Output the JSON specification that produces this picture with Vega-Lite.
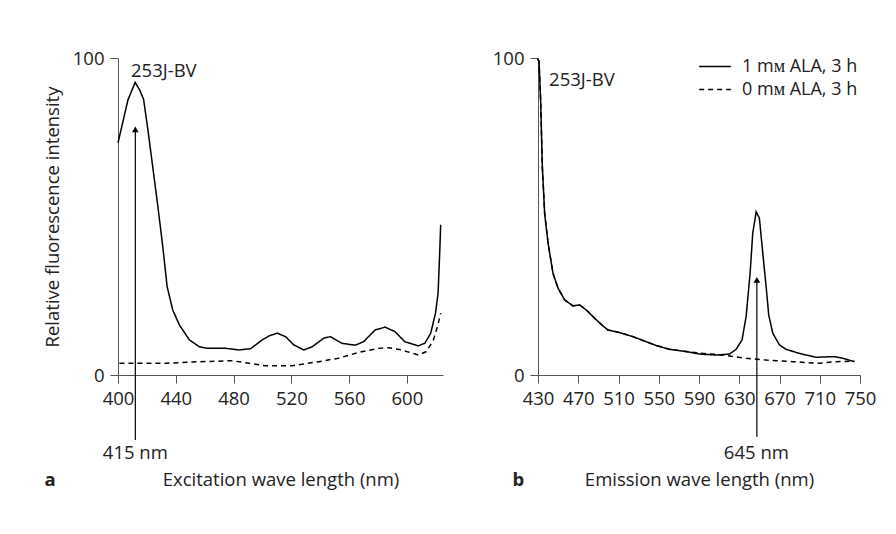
{
  "$schema": "https://vega.github.io/schema/vega-lite/v6.json",
  "padding": {"left": 43, "top": 49, "right": 5, "bottom": 5},
  "background": "white",
  "config": {
    "font": "Open Sans",
    "view": {"stroke": null},
    "axis": {"labelFontSize": 18.5, "titleFontSize": 18.5, "titleFontWeight": "normal", "labelColor": "#222", "titleColor": "#222", "domainColor": "#555", "tickColor": "#555", "grid": false, "tickSize": 8, "labelPadding": 6, "labelFlush": false, "labelOverlap": false},
    "text": {"font": "Open Sans", "fontSize": 18.5, "color": "#222"}
  },
  "datasets": {
    "a": [
      {"wl": 400, "v": 73.2, "s": "1 mᴍ ALA, 3 h"},
      {"wl": 406.9, "v": 86.8, "s": "1 mᴍ ALA, 3 h"},
      {"wl": 411.9, "v": 92.3, "s": "1 mᴍ ALA, 3 h"},
      {"wl": 414.9, "v": 90, "s": "1 mᴍ ALA, 3 h"},
      {"wl": 417.7, "v": 87, "s": "1 mᴍ ALA, 3 h"},
      {"wl": 420.7, "v": 77.4, "s": "1 mᴍ ALA, 3 h"},
      {"wl": 424, "v": 65.8, "s": "1 mᴍ ALA, 3 h"},
      {"wl": 427.6, "v": 53.2, "s": "1 mᴍ ALA, 3 h"},
      {"wl": 431, "v": 40.5, "s": "1 mᴍ ALA, 3 h"},
      {"wl": 434, "v": 27.9, "s": "1 mᴍ ALA, 3 h"},
      {"wl": 437.9, "v": 20.5, "s": "1 mᴍ ALA, 3 h"},
      {"wl": 442.5, "v": 15.8, "s": "1 mᴍ ALA, 3 h"},
      {"wl": 449.4, "v": 11.1, "s": "1 mᴍ ALA, 3 h"},
      {"wl": 456.3, "v": 8.9, "s": "1 mᴍ ALA, 3 h"},
      {"wl": 462, "v": 8.4, "s": "1 mᴍ ALA, 3 h"},
      {"wl": 474.6, "v": 8.4, "s": "1 mᴍ ALA, 3 h"},
      {"wl": 483.8, "v": 7.9, "s": "1 mᴍ ALA, 3 h"},
      {"wl": 491.8, "v": 8.3, "s": "1 mᴍ ALA, 3 h"},
      {"wl": 499.9, "v": 11.1, "s": "1 mᴍ ALA, 3 h"},
      {"wl": 505, "v": 12.4, "s": "1 mᴍ ALA, 3 h"},
      {"wl": 510.2, "v": 13.2, "s": "1 mᴍ ALA, 3 h"},
      {"wl": 516, "v": 12.1, "s": "1 mᴍ ALA, 3 h"},
      {"wl": 521.7, "v": 9.5, "s": "1 mᴍ ALA, 3 h"},
      {"wl": 528.6, "v": 7.9, "s": "1 mᴍ ALA, 3 h"},
      {"wl": 534.4, "v": 8.9, "s": "1 mᴍ ALA, 3 h"},
      {"wl": 542.4, "v": 11.6, "s": "1 mᴍ ALA, 3 h"},
      {"wl": 547, "v": 12.1, "s": "1 mᴍ ALA, 3 h"},
      {"wl": 555, "v": 10, "s": "1 mᴍ ALA, 3 h"},
      {"wl": 564.2, "v": 9.4, "s": "1 mᴍ ALA, 3 h"},
      {"wl": 570, "v": 10.5, "s": "1 mᴍ ALA, 3 h"},
      {"wl": 578, "v": 14.2, "s": "1 mᴍ ALA, 3 h"},
      {"wl": 584.9, "v": 15.1, "s": "1 mᴍ ALA, 3 h"},
      {"wl": 591.7, "v": 13.7, "s": "1 mᴍ ALA, 3 h"},
      {"wl": 598.6, "v": 10.5, "s": "1 mᴍ ALA, 3 h"},
      {"wl": 607.8, "v": 9.2, "s": "1 mᴍ ALA, 3 h"},
      {"wl": 612.4, "v": 10, "s": "1 mᴍ ALA, 3 h"},
      {"wl": 616.5, "v": 13.2, "s": "1 mᴍ ALA, 3 h"},
      {"wl": 619.8, "v": 19.5, "s": "1 mᴍ ALA, 3 h"},
      {"wl": 621.6, "v": 25.8, "s": "1 mᴍ ALA, 3 h"},
      {"wl": 622.8, "v": 39.5, "s": "1 mᴍ ALA, 3 h"},
      {"wl": 623.4, "v": 47.4, "s": "1 mᴍ ALA, 3 h"},
      {"wl": 401, "v": 3.7, "s": "0 mᴍ ALA, 3 h"},
      {"wl": 433.3, "v": 3.7, "s": "0 mᴍ ALA, 3 h"},
      {"wl": 456, "v": 4.2, "s": "0 mᴍ ALA, 3 h"},
      {"wl": 479, "v": 4.5, "s": "0 mᴍ ALA, 3 h"},
      {"wl": 490.7, "v": 3.7, "s": "0 mᴍ ALA, 3 h"},
      {"wl": 502, "v": 2.9, "s": "0 mᴍ ALA, 3 h"},
      {"wl": 520.5, "v": 2.9, "s": "0 mᴍ ALA, 3 h"},
      {"wl": 538.9, "v": 4.2, "s": "0 mᴍ ALA, 3 h"},
      {"wl": 552.7, "v": 5.3, "s": "0 mᴍ ALA, 3 h"},
      {"wl": 566.5, "v": 7.1, "s": "0 mᴍ ALA, 3 h"},
      {"wl": 580.3, "v": 8.4, "s": "0 mᴍ ALA, 3 h"},
      {"wl": 587.2, "v": 8.6, "s": "0 mᴍ ALA, 3 h"},
      {"wl": 596.4, "v": 7.9, "s": "0 mᴍ ALA, 3 h"},
      {"wl": 607.8, "v": 6.3, "s": "0 mᴍ ALA, 3 h"},
      {"wl": 613.6, "v": 7.4, "s": "0 mᴍ ALA, 3 h"},
      {"wl": 618.3, "v": 11, "s": "0 mᴍ ALA, 3 h"},
      {"wl": 621.2, "v": 15.3, "s": "0 mᴍ ALA, 3 h"},
      {"wl": 623.4, "v": 19.5, "s": "0 mᴍ ALA, 3 h"}
    ],
    "b": [
      {"wl": 429.5, "v": 99.7, "s": "1 mᴍ ALA, 3 h"},
      {"wl": 431, "v": 99, "s": "1 mᴍ ALA, 3 h"},
      {"wl": 432.6, "v": 86.8, "s": "1 mᴍ ALA, 3 h"},
      {"wl": 434.3, "v": 65.8, "s": "1 mᴍ ALA, 3 h"},
      {"wl": 436.6, "v": 51, "s": "1 mᴍ ALA, 3 h"},
      {"wl": 440, "v": 41.6, "s": "1 mᴍ ALA, 3 h"},
      {"wl": 444.9, "v": 32.1, "s": "1 mᴍ ALA, 3 h"},
      {"wl": 449.9, "v": 27.4, "s": "1 mᴍ ALA, 3 h"},
      {"wl": 456.5, "v": 23.7, "s": "1 mᴍ ALA, 3 h"},
      {"wl": 464.7, "v": 21.8, "s": "1 mᴍ ALA, 3 h"},
      {"wl": 471.4, "v": 22.1, "s": "1 mᴍ ALA, 3 h"},
      {"wl": 478, "v": 20.5, "s": "1 mᴍ ALA, 3 h"},
      {"wl": 486.3, "v": 17.9, "s": "1 mᴍ ALA, 3 h"},
      {"wl": 494.5, "v": 15.5, "s": "1 mᴍ ALA, 3 h"},
      {"wl": 499.5, "v": 14.2, "s": "1 mᴍ ALA, 3 h"},
      {"wl": 511, "v": 13.4, "s": "1 mᴍ ALA, 3 h"},
      {"wl": 524.3, "v": 12.1, "s": "1 mᴍ ALA, 3 h"},
      {"wl": 537.5, "v": 10.5, "s": "1 mᴍ ALA, 3 h"},
      {"wl": 547.5, "v": 9.3, "s": "1 mᴍ ALA, 3 h"},
      {"wl": 560.7, "v": 8.1, "s": "1 mᴍ ALA, 3 h"},
      {"wl": 577.3, "v": 7.4, "s": "1 mᴍ ALA, 3 h"},
      {"wl": 590.5, "v": 6.6, "s": "1 mᴍ ALA, 3 h"},
      {"wl": 607, "v": 6.3, "s": "1 mᴍ ALA, 3 h"},
      {"wl": 620.3, "v": 6.6, "s": "1 mᴍ ALA, 3 h"},
      {"wl": 626.9, "v": 8.1, "s": "1 mᴍ ALA, 3 h"},
      {"wl": 632.8, "v": 11.1, "s": "1 mᴍ ALA, 3 h"},
      {"wl": 636.8, "v": 18.4, "s": "1 mᴍ ALA, 3 h"},
      {"wl": 640.8, "v": 32.1, "s": "1 mᴍ ALA, 3 h"},
      {"wl": 643.4, "v": 44.7, "s": "1 mᴍ ALA, 3 h"},
      {"wl": 646.8, "v": 51.5, "s": "1 mᴍ ALA, 3 h"},
      {"wl": 650, "v": 49.5, "s": "1 mᴍ ALA, 3 h"},
      {"wl": 653.4, "v": 38.4, "s": "1 mᴍ ALA, 3 h"},
      {"wl": 656.7, "v": 27.9, "s": "1 mᴍ ALA, 3 h"},
      {"wl": 659.3, "v": 18.9, "s": "1 mᴍ ALA, 3 h"},
      {"wl": 663.3, "v": 13.2, "s": "1 mᴍ ALA, 3 h"},
      {"wl": 669.9, "v": 9.5, "s": "1 mᴍ ALA, 3 h"},
      {"wl": 676.5, "v": 8.1, "s": "1 mᴍ ALA, 3 h"},
      {"wl": 689.8, "v": 6.8, "s": "1 mᴍ ALA, 3 h"},
      {"wl": 706.3, "v": 5.6, "s": "1 mᴍ ALA, 3 h"},
      {"wl": 724.5, "v": 5.8, "s": "1 mᴍ ALA, 3 h"},
      {"wl": 732.8, "v": 5.3, "s": "1 mᴍ ALA, 3 h"},
      {"wl": 744.4, "v": 4.2, "s": "1 mᴍ ALA, 3 h"},
      {"wl": 429.5, "v": 99.7, "s": "0 mᴍ ALA, 3 h"},
      {"wl": 431, "v": 99, "s": "0 mᴍ ALA, 3 h"},
      {"wl": 432.6, "v": 86.8, "s": "0 mᴍ ALA, 3 h"},
      {"wl": 434.3, "v": 65.8, "s": "0 mᴍ ALA, 3 h"},
      {"wl": 436.6, "v": 51, "s": "0 mᴍ ALA, 3 h"},
      {"wl": 440, "v": 41.6, "s": "0 mᴍ ALA, 3 h"},
      {"wl": 444.9, "v": 32.1, "s": "0 mᴍ ALA, 3 h"},
      {"wl": 449.9, "v": 27.4, "s": "0 mᴍ ALA, 3 h"},
      {"wl": 456.5, "v": 23.7, "s": "0 mᴍ ALA, 3 h"},
      {"wl": 464.7, "v": 21.8, "s": "0 mᴍ ALA, 3 h"},
      {"wl": 471.4, "v": 22.1, "s": "0 mᴍ ALA, 3 h"},
      {"wl": 478, "v": 20.5, "s": "0 mᴍ ALA, 3 h"},
      {"wl": 486.3, "v": 17.9, "s": "0 mᴍ ALA, 3 h"},
      {"wl": 494.5, "v": 15.5, "s": "0 mᴍ ALA, 3 h"},
      {"wl": 499.5, "v": 14.2, "s": "0 mᴍ ALA, 3 h"},
      {"wl": 511, "v": 13.4, "s": "0 mᴍ ALA, 3 h"},
      {"wl": 524.3, "v": 12.1, "s": "0 mᴍ ALA, 3 h"},
      {"wl": 537.5, "v": 10.5, "s": "0 mᴍ ALA, 3 h"},
      {"wl": 547.5, "v": 9.3, "s": "0 mᴍ ALA, 3 h"},
      {"wl": 560.7, "v": 8.1, "s": "0 mᴍ ALA, 3 h"},
      {"wl": 577.3, "v": 7.4, "s": "0 mᴍ ALA, 3 h"},
      {"wl": 590.5, "v": 6.9, "s": "0 mᴍ ALA, 3 h"},
      {"wl": 607, "v": 6.5, "s": "0 mᴍ ALA, 3 h"},
      {"wl": 620.3, "v": 6.0, "s": "0 mᴍ ALA, 3 h"},
      {"wl": 636.8, "v": 5.3, "s": "0 mᴍ ALA, 3 h"},
      {"wl": 656.7, "v": 4.7, "s": "0 mᴍ ALA, 3 h"},
      {"wl": 683.1, "v": 4.2, "s": "0 mᴍ ALA, 3 h"},
      {"wl": 709.6, "v": 3.7, "s": "0 mᴍ ALA, 3 h"},
      {"wl": 726.2, "v": 4.2, "s": "0 mᴍ ALA, 3 h"},
      {"wl": 744.4, "v": 4.4, "s": "0 mᴍ ALA, 3 h"}
    ]
  },
  "resolve": {"scale": {"x": "independent", "y": "independent", "strokeDash": "independent"}, "legend": {"strokeDash": "independent"}},
  "spacing": 48,
  "hconcat": [
    {
      "width": 325,
      "height": 317,
      "layer": [
        {
          "data": {"name": "a"},
          "mark": {"type": "line", "color": "black", "strokeWidth": 1.5, "clip": false},
          "encoding": {
            "x": {"field": "wl", "type": "quantitative", "scale": {"domain": [400, 625], "nice": false, "zero": false},
                  "axis": {"values": [400, 440, 480, 520, 560, 600], "title": "Excitation wave length (nm)", "titlePadding": 63}},
            "y": {"field": "v", "type": "quantitative", "scale": {"domain": [0, 100], "nice": false},
                  "axis": {"values": [0, 100], "title": "Relative fluorescence intensity", "titlePadding": 10}},
            "strokeDash": {"field": "s", "type": "nominal", "legend": null,
                  "scale": {"domain": ["1 mᴍ ALA, 3 h", "0 mᴍ ALA, 3 h"], "range": [[1, 0], [5, 4]]}},
            "order": {"field": "wl", "type": "quantitative"}
          }
        },
        {
          "data": {"values": [{}]},
          "mark": {"type": "rule", "color": "black", "strokeWidth": 1.2},
          "encoding": {"x": {"datum": 412}, "y": {"datum": -20.5}, "y2": {"datum": 77}}
        },
        {
          "data": {"values": [{}]},
          "mark": {"type": "point", "shape": "triangle-up", "filled": true, "color": "black", "size": 45, "opacity": 1},
          "encoding": {"x": {"datum": 412}, "y": {"datum": 77.5}}
        },
        {
          "data": {"values": [{}]},
          "mark": {"type": "text", "align": "center", "baseline": "middle"},
          "encoding": {"x": {"datum": 412}, "y": {"datum": -24.7}, "text": {"value": "415 nm"}}
        },
        {
          "data": {"values": [{}]},
          "mark": {"type": "text", "align": "left", "baseline": "middle"},
          "encoding": {"x": {"datum": 409}, "y": {"datum": 96}, "text": {"value": "253J-BV"}}
        },
        {
          "data": {"values": [{}]},
          "mark": {"type": "text", "align": "center", "baseline": "middle", "fontWeight": "bold"},
          "encoding": {"x": {"datum": 353}, "y": {"datum": -33}, "text": {"value": "a"}}
        }
      ]
    },
    {
      "width": 322,
      "height": 317,
      "layer": [
        {
          "data": {"name": "b"},
          "mark": {"type": "line", "color": "black", "strokeWidth": 1.5, "clip": false},
          "encoding": {
            "x": {"field": "wl", "type": "quantitative", "scale": {"domain": [430, 750], "nice": false, "zero": false},
                  "axis": {"values": [430, 470, 510, 550, 590, 630, 670, 710, 750], "title": "Emission wave length (nm)", "titlePadding": 63}},
            "y": {"field": "v", "type": "quantitative", "scale": {"domain": [0, 100], "nice": false},
                  "axis": {"values": [0, 100], "title": null}},
            "strokeDash": {"field": "s", "type": "nominal",
                  "scale": {"domain": ["1 mᴍ ALA, 3 h", "0 mᴍ ALA, 3 h"], "range": [[1, 0], [5, 4]]},
                  "legend": {"title": null, "orient": "none", "legendX": 160, "legendY": -3, "symbolType": "stroke", "symbolSize": 1000, "symbolStrokeWidth": 1.5, "symbolStrokeColor": "black", "labelFontSize": 18, "labelColor": "#222", "labelOffset": 10, "rowPadding": 0, "clipHeight": 23, "labelFont": "Open Sans"}},
            "order": {"field": "wl", "type": "quantitative"}
          }
        },
        {
          "data": {"values": [{}]},
          "mark": {"type": "rule", "color": "black", "strokeWidth": 1.2},
          "encoding": {"x": {"datum": 647.5}, "y": {"datum": -19.5}, "y2": {"datum": 29.5}}
        },
        {
          "data": {"values": [{}]},
          "mark": {"type": "point", "shape": "triangle-up", "filled": true, "color": "black", "size": 45, "opacity": 1},
          "encoding": {"x": {"datum": 647.5}, "y": {"datum": 30}}
        },
        {
          "data": {"values": [{}]},
          "mark": {"type": "text", "align": "center", "baseline": "middle"},
          "encoding": {"x": {"datum": 647}, "y": {"datum": -24.7}, "text": {"value": "645 nm"}}
        },
        {
          "data": {"values": [{}]},
          "mark": {"type": "text", "align": "left", "baseline": "middle"},
          "encoding": {"x": {"datum": 441}, "y": {"datum": 93}, "text": {"value": "253J-BV"}}
        },
        {
          "data": {"values": [{}]},
          "mark": {"type": "text", "align": "center", "baseline": "middle", "fontWeight": "bold"},
          "encoding": {"x": {"datum": 410.5}, "y": {"datum": -33}, "text": {"value": "b"}}
        }
      ]
    }
  ]
}
